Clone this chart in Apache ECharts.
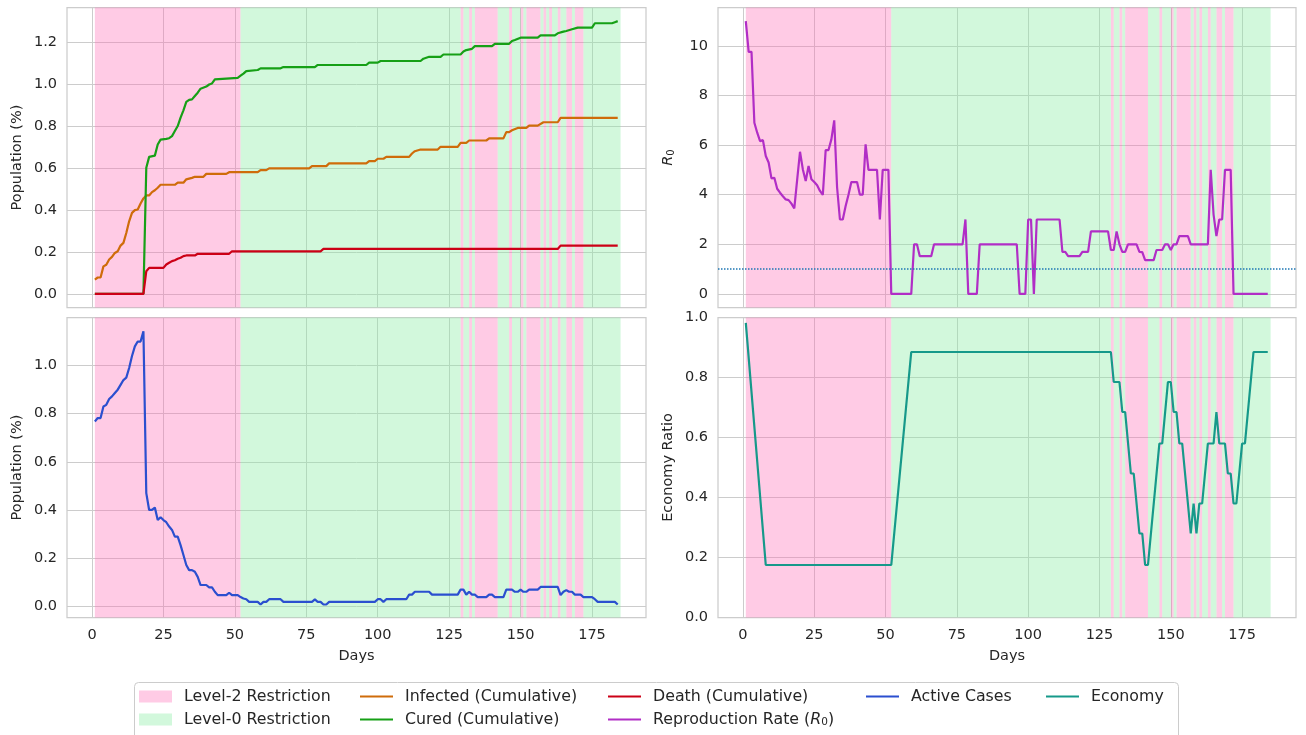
<!DOCTYPE html>
<html>
<head>
<meta charset="utf-8">
<title>Restrictions, epidemic and economy</title>
<script src="https://cdn.jsdelivr.net/npm/echarts@6/dist/echarts.min.js"></script>
<style>
  html, body { margin: 0; padding: 0; background: #fff; }
  #main { width: 1306px; height: 735px; }
</style>
</head>
<body>
<div id="main"></div>
<script>
// restriction spans, [from day, to day)
const level2Spans = [[1, 52], [129, 130], [132, 133], [134, 142], [146, 147], [150, 151], [152, 157], [158, 159], [160, 161], [163, 164], [166, 168], [169, 172]]
const level0Spans = [[52, 129], [130, 132], [133, 134], [142, 146], [147, 150], [151, 152], [157, 158], [159, 160], [161, 163], [164, 166], [168, 169], [172, 185]]

// [day, population %]
const infected = [[1, 0.068], [2, 0.078], [3, 0.078], [4, 0.131], [5, 0.139], [6, 0.164], [7, 0.176], [8, 0.195], [9, 0.203], [10, 0.23], [11, 0.243], [12, 0.29], [13, 0.346], [14, 0.386], [15, 0.399], [16, 0.402], [17, 0.431], [18, 0.455], [19, 0.469], [20, 0.469], [21, 0.485], [22, 0.494], [23, 0.506], [24, 0.52], [29, 0.52], [30, 0.53], [32, 0.53], [33, 0.546], [35, 0.553], [36, 0.558], [39, 0.558], [40, 0.572], [47, 0.572], [48, 0.58], [58, 0.58], [59, 0.59], [61, 0.59], [62, 0.598], [76, 0.598], [77, 0.609], [82, 0.609], [83, 0.622], [96, 0.622], [97, 0.633], [99, 0.633], [100, 0.644], [102, 0.644], [103, 0.653], [111, 0.653], [112, 0.669], [113, 0.68], [115, 0.688], [121, 0.688], [122, 0.701], [128, 0.701], [129, 0.72], [131, 0.72], [132, 0.731], [138, 0.731], [139, 0.741], [144, 0.741], [145, 0.771], [146, 0.771], [147, 0.78], [149, 0.791], [152, 0.791], [153, 0.802], [156, 0.802], [158, 0.818], [163, 0.818], [164, 0.839], [184, 0.839]]
const cured = [[1, 0], [18, 0], [19, 0.601], [20, 0.653], [22, 0.659], [23, 0.712], [24, 0.735], [26, 0.739], [27, 0.742], [28, 0.752], [29, 0.776], [30, 0.8], [31, 0.84], [32, 0.875], [33, 0.915], [34, 0.925], [35, 0.927], [36, 0.943], [37, 0.959], [38, 0.978], [40, 0.988], [41, 0.998], [42, 1.003], [43, 1.022], [51, 1.03], [52, 1.04], [53, 1.05], [54, 1.062], [58, 1.067], [59, 1.075], [66, 1.075], [67, 1.081], [78, 1.081], [79, 1.091], [96, 1.091], [97, 1.102], [100, 1.102], [101, 1.11], [115, 1.11], [116, 1.121], [118, 1.13], [122, 1.13], [123, 1.141], [129, 1.141], [130, 1.155], [131, 1.162], [133, 1.168], [134, 1.181], [140, 1.181], [141, 1.192], [146, 1.192], [147, 1.205], [148, 1.21], [150, 1.221], [156, 1.221], [157, 1.232], [162, 1.232], [163, 1.242], [165, 1.25], [166, 1.253], [168, 1.261], [170, 1.269], [175, 1.269], [176, 1.29], [182, 1.29], [183, 1.295], [184, 1.3]]
const death = [[1, 0], [18, 0], [19, 0.108], [20, 0.124], [25, 0.124], [26, 0.14], [27, 0.148], [28, 0.156], [29, 0.16], [30, 0.167], [31, 0.172], [32, 0.18], [33, 0.183], [36, 0.183], [37, 0.191], [48, 0.191], [49, 0.203], [80, 0.203], [81, 0.214], [163, 0.214], [164, 0.23], [184, 0.23]]
const active = [[1, 0.768], [2, 0.782], [3, 0.782], [4, 0.83], [5, 0.837], [6, 0.861], [7, 0.872], [8, 0.886], [9, 0.9], [10, 0.92], [11, 0.94], [12, 0.95], [13, 0.99], [14, 1.04], [15, 1.08], [16, 1.1], [17, 1.1], [18, 1.143], [19, 0.47], [20, 0.4], [21, 0.4], [22, 0.41], [23, 0.358], [24, 0.37], [25, 0.358], [26, 0.349], [27, 0.331], [28, 0.317], [29, 0.289], [30, 0.289], [31, 0.254], [32, 0.213], [33, 0.171], [34, 0.15], [35, 0.15], [36, 0.143], [37, 0.122], [38, 0.088], [40, 0.088], [41, 0.078], [42, 0.078], [43, 0.06], [44, 0.046], [47, 0.046], [48, 0.056], [49, 0.046], [51, 0.046], [52, 0.038], [53, 0.032], [54, 0.029], [55, 0.018], [58, 0.018], [59, 0.007], [60, 0.018], [61, 0.018], [62, 0.029], [66, 0.029], [67, 0.018], [77, 0.018], [78, 0.028], [79, 0.018], [80, 0.018], [81, 0.007], [82, 0.007], [83, 0.018], [99, 0.018], [100, 0.029], [101, 0.029], [102, 0.018], [103, 0.029], [110, 0.029], [111, 0.048], [112, 0.048], [113, 0.06], [118, 0.06], [119, 0.048], [128, 0.048], [129, 0.069], [130, 0.069], [131, 0.048], [132, 0.06], [133, 0.048], [134, 0.048], [135, 0.038], [138, 0.038], [139, 0.048], [140, 0.048], [141, 0.038], [144, 0.038], [145, 0.069], [147, 0.069], [148, 0.06], [149, 0.06], [150, 0.069], [151, 0.06], [152, 0.06], [153, 0.069], [156, 0.069], [157, 0.08], [163, 0.08], [164, 0.046], [165, 0.06], [166, 0.067], [167, 0.06], [168, 0.06], [169, 0.048], [171, 0.048], [172, 0.038], [175, 0.038], [176, 0.029], [177, 0.018], [183, 0.018], [184, 0.007]]

// [day, R0]
const r0 = [[1, 11.0], [2, 9.76], [3, 9.76], [4, 6.9], [5, 6.5], [6, 6.16], [7, 6.2], [8, 5.56], [9, 5.3], [10, 4.66], [11, 4.68], [12, 4.24], [13, 4.08], [14, 3.94], [15, 3.81], [16, 3.78], [17, 3.64], [18, 3.45], [19, 4.6], [20, 5.73], [21, 5.02], [22, 4.55], [23, 5.16], [24, 4.62], [25, 4.51], [26, 4.38], [27, 4.15], [28, 3.99], [29, 5.8], [30, 5.8], [31, 6.23], [32, 7.0], [33, 4.3], [34, 3.0], [35, 3.0], [36, 3.54], [37, 4.0], [38, 4.51], [40, 4.51], [41, 4.0], [42, 4.0], [43, 6.03], [44, 5.0], [47, 5.0], [48, 3.0], [49, 5.0], [51, 5.0], [52, 0], [59, 0], [60, 2.0], [61, 2.0], [62, 1.52], [66, 1.52], [67, 2.0], [77, 2.0], [78, 3.0], [79, 0], [82, 0], [83, 2.0], [96, 2.0], [97, 0], [99, 0], [100, 3.0], [101, 3.0], [102, 0], [103, 3.0], [111, 3.0], [112, 1.69], [113, 1.69], [114, 1.52], [118, 1.52], [119, 1.69], [121, 1.69], [122, 2.52], [128, 2.52], [129, 1.77], [130, 1.77], [131, 2.52], [132, 2.0], [133, 1.69], [134, 1.69], [135, 2.0], [138, 2.0], [139, 1.69], [140, 1.68], [141, 1.36], [144, 1.36], [145, 1.77], [147, 1.77], [148, 2.0], [149, 2.0], [150, 1.77], [151, 2.0], [152, 2.0], [153, 2.33], [156, 2.33], [157, 2.0], [163, 2.0], [164, 5.0], [165, 3.2], [166, 2.33], [167, 3.0], [168, 3.0], [169, 5.0], [171, 5.0], [172, 0], [184, 0]]

// [day, economy ratio]
const economy = [[1, 0.982], [8, 0.175], [52, 0.175], [59, 0.885], [129, 0.885], [130, 0.785], [132, 0.785], [133, 0.685], [134, 0.685], [136, 0.48], [137, 0.48], [139, 0.28], [140, 0.28], [141, 0.175], [142, 0.175], [146, 0.58], [147, 0.58], [149, 0.785], [150, 0.785], [151, 0.685], [152, 0.685], [153, 0.58], [154, 0.58], [157, 0.28], [158, 0.38], [159, 0.28], [160, 0.38], [161, 0.38], [163, 0.58], [165, 0.58], [166, 0.685], [167, 0.58], [169, 0.58], [170, 0.48], [171, 0.48], [172, 0.38], [173, 0.38], [175, 0.58], [176, 0.58], [179, 0.885], [184, 0.885]]

// tick labels
const dayTicks = [0, 25, 50, 75, 100, 125, 150, 175]
const popTicksTop = [0, 0.2, 0.4, 0.6, 0.8, 1.0, 1.2]
const popTicksBottom = [0, 0.2, 0.4, 0.6, 0.8, 1.0]
const r0Ticks = [0, 2, 4, 6, 8, 10]
const economyTicks = [0, 0.2, 0.4, 0.6, 0.8, 1.0]

const R0_NAME = 'Reproduction Rate (R0)'
const FONT = 'DejaVu Sans'
const TXT = '#262626'
const GRID_LINE = '#cccccc'
const PINK = 'rgba(255,105,180,0.35)'
const GREEN = 'rgba(143,238,168,0.4)'
const FS = 14.5

let chart = echarts.init(document.getElementById('main'))

const gridBoxes = [
  {left: 67, top: 7.5, width: 579, height: 300},
  {left: 718, top: 7.5, width: 578, height: 300},
  {left: 67, top: 317.5, width: 579, height: 300},
  {left: 718, top: 317.5, width: 578, height: 300}
]

const subRich = {
  i: {fontStyle: 'italic'},
  s: {fontSize: 10, verticalAlign: 'bottom'}
}

function xAxisFor(i, bottom) {
  return {
    type: 'value', gridIndex: i, min: -8.75, max: 193.9,
    name: bottom ? 'Days' : '', nameLocation: 'middle', nameGap: 31,
    nameTextStyle: {fontFamily: FONT, fontSize: FS, color: TXT},
    axisLine: {show: false},
    axisTick: {show: false, customValues: dayTicks},
    axisLabel: {show: bottom, customValues: dayTicks, margin: 10, fontFamily: FONT, fontSize: FS, color: TXT},
    splitLine: {show: true, lineStyle: {color: GRID_LINE, width: 1}}
  }
}

function yAxisFor(i, min, max, ticks, digits, name) {
  return {
    type: 'value', gridIndex: i, min: min, max: max,
    name: name, nameLocation: 'middle', nameGap: 42,
    nameTextStyle: {fontFamily: FONT, fontSize: FS, color: TXT, rich: subRich},
    axisLine: {show: false},
    axisTick: {show: false, customValues: ticks},
    axisLabel: {
      customValues: ticks, margin: 10, fontFamily: FONT, fontSize: FS, color: TXT,
      formatter: v => Number(v).toFixed(digits)
    },
    splitLine: {show: true, lineStyle: {color: GRID_LINE, width: 1}}
  }
}

function shade(name, spans, color, i) {
  return {
    name: name, type: 'line', xAxisIndex: i, yAxisIndex: i, data: [],
    z: 1, silent: true, color: color, itemStyle: {color: color},
    markArea: {
      silent: true, itemStyle: {color: color, borderWidth: 0},
      data: spans.map(s => [{xAxis: s[0]}, {xAxis: s[1]}])
    }
  }
}

function line(name, data, color, i) {
  return {
    name: name, type: 'line', xAxisIndex: i, yAxisIndex: i, data: data,
    color: color, symbol: 'none', showSymbol: false, z: 3, silent: true,
    lineStyle: {width: 2.2, color: color}
  }
}

let series = []
for (let i = 0; i < 4; i++) {
  series.push(shade('Level-2 Restriction', level2Spans, PINK, i))
  series.push(shade('Level-0 Restriction', level0Spans, GREEN, i))
}
series.push(line('Infected (Cumulative)', infected, '#cf6c0a', 0))
series.push(line('Cured (Cumulative)', cured, '#16a016', 0))
series.push(line('Death (Cumulative)', death, '#cc0016', 0))
let r0Series = line(R0_NAME, r0, '#b12ec6', 1)
r0Series.markLine = {
  silent: true, symbol: ['none', 'none'], label: {show: false},
  lineStyle: {color: '#1f77b4', type: 'dotted', width: 1.5},
  data: [{yAxis: 1}]
}
series.push(r0Series)
series.push(line('Active Cases', active, '#2b4fcf', 2))
series.push(line('Economy', economy, '#16998a', 3))

// legend text, R0 gets an italic R and a subscript
function legendText(name) {
  if (name === R0_NAME) return '{t|Reproduction Rate (}{i|R}{s|0}{t|)}'
  return '{t|' + name + '}'
}

function legendCol(left, names, itemHeight) {
  return {
    orient: 'vertical', left: left, top: 688,
    itemWidth: 33, itemHeight: itemHeight, itemGap: 6,
    selectedMode: false, padding: 0,
    data: names.map(n => ({name: n, icon: 'rect'})),
    formatter: legendText,
    textStyle: {
      fontFamily: FONT, fontSize: 15.8, color: TXT, lineHeight: 17, padding: [0, 0, 0, 7],
      rich: {
        t: {lineHeight: 17},
        i: {fontStyle: 'italic', lineHeight: 17},
        s: {fontSize: 10.5, verticalAlign: 'bottom', lineHeight: 17}
      }
    }
  }
}

chart.setOption({
  animation: false,
  backgroundColor: '#ffffff',
  grid: gridBoxes.map(g => Object.assign({show: true, borderColor: GRID_LINE, borderWidth: 1.25, backgroundColor: 'transparent'}, g)),
  xAxis: [xAxisFor(0, false), xAxisFor(1, false), xAxisFor(2, true), xAxisFor(3, true)],
  yAxis: [
    yAxisFor(0, -0.065, 1.365, popTicksTop, 1, 'Population (%)'),
    yAxisFor(1, -0.55, 11.55, r0Ticks, 0, '{i|R}{s|0}'),
    yAxisFor(2, -0.047, 1.2, popTicksBottom, 1, 'Population (%)'),
    yAxisFor(3, 0, 1, economyTicks, 1, 'Economy Ratio')
  ],
  legend: [
    legendCol(139, ['Level-2 Restriction', 'Level-0 Restriction'], 12),
    legendCol(360, ['Infected (Cumulative)', 'Cured (Cumulative)'], 2),
    legendCol(608, ['Death (Cumulative)', R0_NAME], 2),
    legendCol(866, ['Active Cases'], 2),
    legendCol(1046, ['Economy'], 2)
  ],
  graphic: [{
    type: 'rect', left: 134, top: 682, z: 0, silent: true,
    shape: {width: 1044, height: 70, r: 4},
    style: {fill: '#ffffff', stroke: GRID_LINE, lineWidth: 1}
  }],
  series: series
})

window.addEventListener('resize', function () {
  chart.resize()
})
</script>
</body>
</html>
